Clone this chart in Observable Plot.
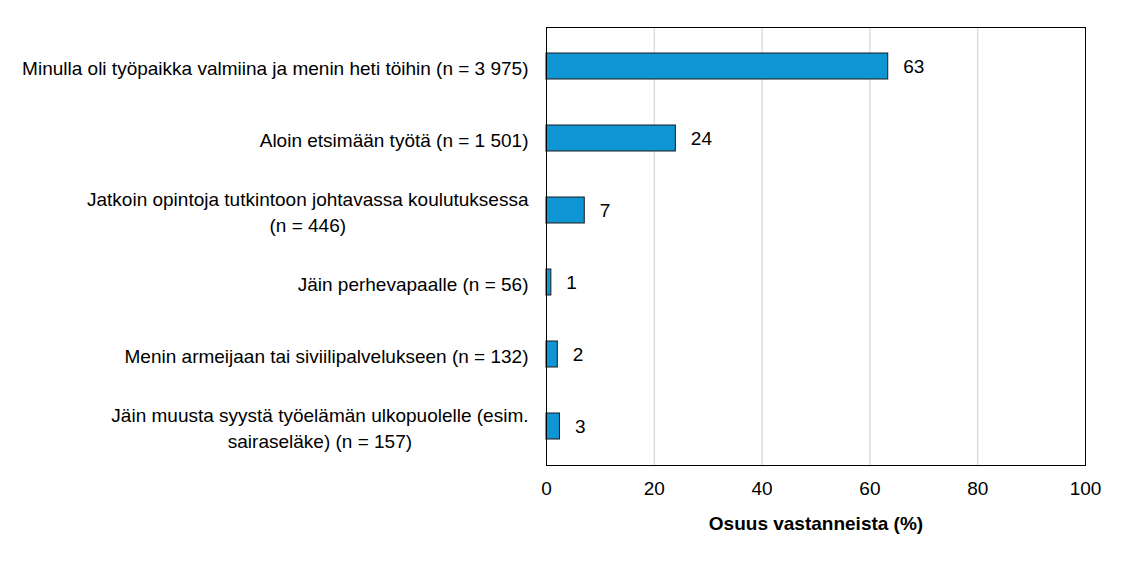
<!DOCTYPE html>
<html>
<head>
<meta charset="utf-8">
<script src="https://cdn.jsdelivr.net/npm/d3@7"></script>
<script src="https://cdn.jsdelivr.net/npm/@observablehq/plot@0.6"></script>
<style>
  html, body { margin: 0; padding: 0; background: #fff; }
  svg { display: block; }
</style>
</head>
<body>
<script>
const categories = [
  "Minulla oli työpaikka valmiina ja menin heti töihin (n = 3 975)",
  "Aloin etsimään työtä (n = 1 501)",
  "Jatkoin opintoja tutkintoon johtavassa koulutuksessa\n(n = 446)",
  "Jäin perhevapaalle (n = 56)",
  "Menin armeijaan tai siviilipalvelukseen (n = 132)",
  "Jäin muusta syystä työelämän ulkopuolelle (esim.\nsairaseläke) (n = 157)"
];
const values = [63.4, 24.0, 7.1, 0.9, 2.1, 2.5];
const valueLabels = ["63", "24", "7", "1", "2", "3"];
const xTicks = [0, 20, 40, 60, 80, 100];
const gridTicks = [20, 40, 60, 80];

const data = categories.map((c, i) => ({category: c, value: values[i], label: valueLabels[i]}));

const chart = Plot.plot({
  width: 1130,
  height: 569,
  marginLeft: 546,
  marginRight: 45,
  marginTop: 27,
  marginBottom: 104,
  style: {fontFamily: "'Liberation Sans', Arial, sans-serif", fontSize: "19px", color: "#000", background: "#fff"},
  x: {domain: [0, 100]},
  y: {domain: categories, paddingInner: 0.64, paddingOuter: 0.34},
  marks: [
    Plot.gridX(gridTicks, {stroke: "#d9d9d9", strokeOpacity: 1, strokeWidth: 1.3}),
    Plot.barX(data, {x: "value", y: "category", fill: "#0f95d3", stroke: "#1a1a1a", strokeWidth: 1}),
    Plot.text(data, {x: "value", y: "category", text: "label", textAnchor: "start", dx: 15, fontSize: 19, fill: "#000"}),
    Plot.frame({stroke: "#000", strokeWidth: 1}),
    Plot.axisY({tickSize: 0, tickPadding: 18, label: null, fontSize: 19, lineHeight: 1.37, fill: "#000"}),
    Plot.axisX({ticks: xTicks, tickSize: 0, tickPadding: 16, fontSize: 19, label: null, fill: "#000"}),
    Plot.text(["Osuus vastanneista (%)"], {frameAnchor: "bottom", dy: 58, fontSize: 19, fontWeight: "bold", fill: "#000", lineAnchor: "middle"})
  ]
});
document.body.append(chart);

// center multi-line tick labels within their right-aligned block
chart.querySelectorAll('g[aria-label="y-axis tick label"] text').forEach(t => {
  const spans = Array.from(t.querySelectorAll("tspan"));
  if (spans.length > 1) {
    const w = Math.max(...spans.map(s => s.getComputedTextLength()));
    t.setAttribute("text-anchor", "middle");
    spans.forEach(s => s.setAttribute("x", -w / 2));
  }
});
</script>
</body>
</html>
